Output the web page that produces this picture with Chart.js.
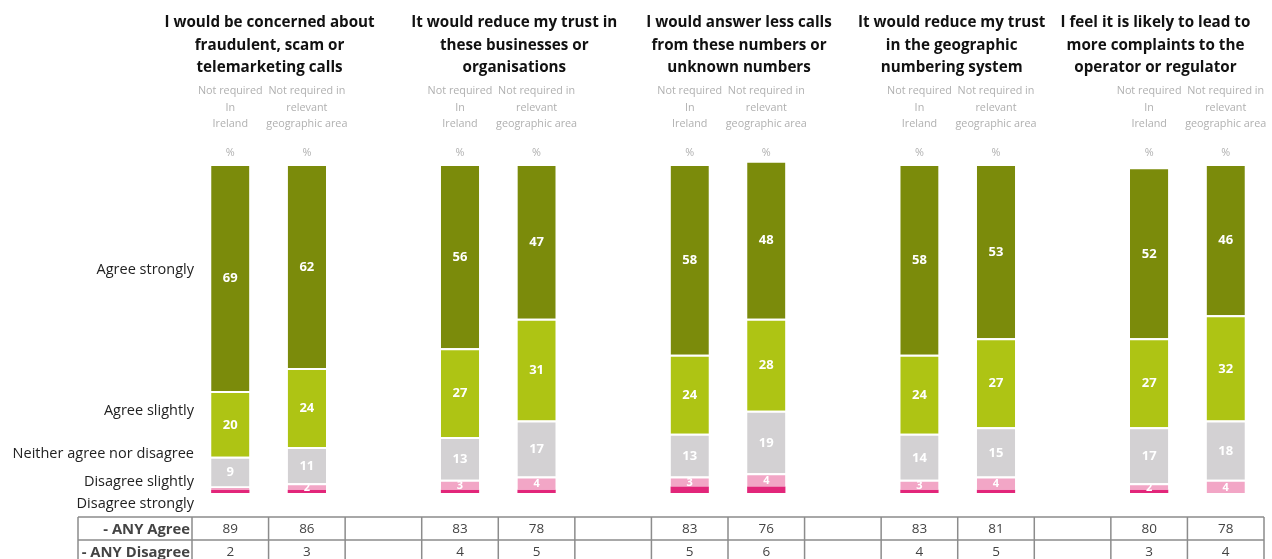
<!DOCTYPE html>
<html>
<head>
<meta charset="utf-8">
<script src="https://cdn.jsdelivr.net/npm/chart.js"></script>
<style>
  html, body { margin: 0; padding: 0; background: #fff; }
  #wrap { width: 1272px; height: 559px; position: relative; }
</style>
</head>
<body>
<div id="wrap"><canvas id="chart"></canvas></div>
<script>
// statements (one per group of two bars)
const statements = [
    ['I would be concerned about', 'fraudulent, scam or', 'telemarketing calls'],
    ['It would reduce my trust in', 'these businesses or', 'organisations'],
    ['I would answer less calls', 'from these numbers or', 'unknown numbers'],
    ['It would reduce my trust', 'in the geographic', 'numbering system'],
    ['I feel it is likely to lead to', 'more complaints to the', 'operator or regulator']
];
const bases = [
    ['Not required', 'In', 'Ireland'],
    ['Not required in', 'relevant', 'geographic area']
];
const responses = ['Disagree strongly', 'Disagree slightly', 'Neither agree nor disagree', 'Agree slightly', 'Agree strongly'];

// values, two bars per statement (Ireland, geographic area)
const agreeStrongly    = [69, 62, 56, 47, 58, 48, 58, 53, 52, 46];
const agreeSlightly    = [20, 24, 27, 31, 24, 28, 24, 27, 27, 32];
const neither          = [9, 11, 13, 17, 13, 19, 14, 15, 17, 18];
const disagreeSlightly = [1, 2, 3, 4, 3, 4, 3, 4, 2, 4];
const disagreeStrongly = [1, 1, 1, 1, 2, 2, 1, 1, 1, 0];
const anyAgree    = [89, 86, 83, 78, 83, 76, 83, 81, 80, 78];
const anyDisagree = [2, 3, 4, 5, 5, 6, 4, 5, 3, 4];

const colors = ['#e2267a', '#f2a6c6', '#d3d1d3', '#aec414', '#7b8b0b'];

// put an empty slot between statement groups
const spread = arr => {
    const out = [];
    for (let g = 0; g < statements.length; g++) {
        out.push(arr[g * 2], arr[g * 2 + 1]);
        if (g < statements.length - 1) out.push(null);
    }
    return out;
};
const slots = spread(anyAgree.map((v, i) => 'bar' + i)).map((v, i) => v || 'gap' + i);

const seriesData = [disagreeStrongly, disagreeSlightly, neither, agreeSlightly, agreeStrongly];

const overlay = {
    id: 'overlay',
    afterDatasetsDraw(chart) {
        const ctx = chart.ctx;
        const x = chart.scales.x;
        const y = chart.scales.y;
        const area = chart.chartArea;
        const slotW = x.getPixelForValue(1) - x.getPixelForValue(0);
        ctx.save();

        // values inside segments
        ctx.textAlign = 'center';
        ctx.textBaseline = 'middle';
        ctx.fillStyle = '#fff';
        chart.data.datasets.forEach((ds, di) => {
            if (di === 0) return;
            const meta = chart.getDatasetMeta(di);
            meta.data.forEach((el, i) => {
                const v = ds.data[i];
                if (v == null || v < 2) return;
                ctx.font = (di === 1 ? 'bold 11px' : 'bold 13px') + ' "Open Sans", sans-serif';
                ctx.fillText(v, el.x, (el.y + el.base) / 2 + 1);
            });
        });

        // statement titles
        const titleShift = [1, 16, 11, -6, -32];
        ctx.fillStyle = '#111';
        ctx.font = 'bold 15.2px "Open Sans", sans-serif';
        statements.forEach((lines, g) => {
            const cx = (x.getPixelForValue(g * 3) + x.getPixelForValue(g * 3 + 1)) / 2 + titleShift[g];
            lines.forEach((t, li) => ctx.fillText(t, cx, 23 + li * 22.5));
            // base headings per bar
            ctx.save();
            ctx.fillStyle = '#b0b0b0';
            ctx.font = '10.8px "Open Sans", sans-serif';
            [0, 1].forEach(b => {
                const bx = x.getPixelForValue(g * 3 + b);
                bases[b].forEach((t, li) => ctx.fillText(t, bx, 91 + li * 16.5));
                ctx.fillText('%', bx, 153);
            });
            ctx.restore();
        });

        // response labels on the left
        const rowAt = [-3.3, 3.4, 11.9, 25, 67.8];
        ctx.fillStyle = '#222';
        ctx.textAlign = 'right';
        ctx.font = '14.5px "Open Sans", sans-serif';
        responses.forEach((r, i) => ctx.fillText(r, 194, y.getPixelForValue(rowAt[i])));

        // summary table
        const top = area.bottom + 24;
        const rowH = 23;
        const left = 78;
        const right = x.getPixelForValue(slots.length - 1) + slotW / 2;
        ctx.strokeStyle = '#8c8c8c';
        ctx.lineWidth = 1.5;
        ctx.beginPath();
        for (let r = 0; r <= 2; r++) {
            ctx.moveTo(left, top + r * rowH);
            ctx.lineTo(right, top + r * rowH);
        }
        ctx.moveTo(left, top);
        ctx.lineTo(left, top + rowH * 2);
        for (let i = 0; i <= slots.length; i++) {
            const lx = x.getPixelForValue(0) - slotW / 2 + i * slotW;
            ctx.moveTo(lx, top);
            ctx.lineTo(lx, top + rowH * 2);
        }
        ctx.stroke();

        ctx.fillStyle = '#444';
        ctx.font = 'bold 14.8px "Open Sans", sans-serif';
        ctx.textAlign = 'right';
        const labelRight = x.getPixelForValue(0) - slotW / 2 - 2;
        ctx.fillText('- ANY Agree', labelRight, top + rowH / 2 + 1);
        ctx.fillText('- ANY Disagree', labelRight, top + rowH * 1.5 + 1);
        ctx.textAlign = 'center';
        ctx.font = '13.5px "Open Sans", sans-serif';
        const agreeRow = spread(anyAgree);
        const disagreeRow = spread(anyDisagree);
        agreeRow.forEach((v, i) => {
            if (v == null) return;
            const cx = x.getPixelForValue(i);
            ctx.fillText(v, cx, top + rowH / 2 + 1);
            ctx.fillText(disagreeRow[i], cx, top + rowH * 1.5 + 1);
        });

        ctx.restore();
    }
};

new Chart(document.getElementById('chart'), {
    type: 'bar',
    data: {
        labels: slots,
        datasets: responses.map((r, i) => ({
            label: r,
            data: spread(seriesData[i]),
            backgroundColor: colors[i],
            borderColor: '#fff',
            borderWidth: { top: i === 0 ? 0 : 2, bottom: 0, left: 0, right: 0 },
            borderSkipped: false,
            barPercentage: 0.5,
            categoryPercentage: 1,
            clip: false
        }))
    },
    options: {
        responsive: true,
        maintainAspectRatio: false,
        animation: false,
        layout: { padding: { top: 164, bottom: 66, left: 192, right: 8 } },
        scales: {
            x: { stacked: true, display: false },
            y: { stacked: true, display: false, min: 0, max: 100 }
        },
        plugins: {
            legend: { display: false },
            tooltip: { enabled: false }
        }
    },
    plugins: [overlay]
});
</script>
</body>
</html>
